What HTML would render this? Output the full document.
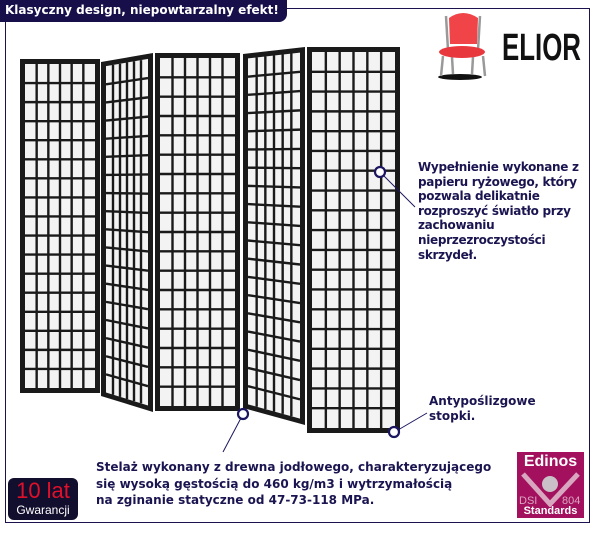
<!DOCTYPE html>
<html><head><meta charset="utf-8"><style>
body{margin:0;width:601px;height:534px;background:#fff;overflow:hidden;position:relative;font-family:"DejaVu Sans",Verdana,sans-serif}
.frame{position:absolute;left:5px;top:8px;width:585px;height:515px;border:1.5px solid #1c1250;box-sizing:border-box}
.tab{position:absolute;left:0;top:0;width:287px;height:22px;background:#160f4a;border-radius:0 0 8px 0;color:#fff;font:bold 12px "DejaVu Sans",sans-serif;line-height:20px;padding-left:5px;box-sizing:border-box}
.t{position:absolute;color:#1a1550;font:bold 12px "DejaVu Sans",Verdana,sans-serif;line-height:14.6px;white-space:nowrap}
svg{position:absolute;left:0;top:0}
</style></head><body>
<div class="frame"></div>
<div class="tab">Klasyczny design, niepowtarzalny efekt!</div>
<svg id="s" width="601" height="534"></svg>
<div class="t" style="left:418px;top:160px;letter-spacing:-0.3px">Wypełnienie wykonane z<br>papieru ryżowego, który<br>pozwala delikatnie<br>rozproszyć światło przy<br>zachowaniu<br>nieprzezroczystości<br>skrzydeł.</div>
<div class="t" style="left:429px;top:394px">Antypoślizgowe<br>stopki.</div>
<div class="t" style="left:96px;top:459px;line-height:16.5px">Stelaż wykonany z drewna jodłowego, charakteryzującego<br>się wysoką gęstością do 460 kg/m3 i wytrzymałością<br>na zginanie statyczne od 47-73-118 MPa.</div>
<div style="position:absolute;left:502px;top:29px;font:bold 38px 'Liberation Sans',sans-serif;color:#111;transform:scaleX(0.68);transform-origin:left;line-height:38px">ELIOR</div>
<div style="position:absolute;left:8px;top:478px;width:70px;height:42px;background:#120e2e;border-radius:6px;text-align:center">
<div style="color:#e0102a;font:22px 'Liberation Sans',sans-serif;line-height:24px;margin-top:1px">10 lat</div>
<div style="color:#fff;font:12px 'Liberation Sans',sans-serif;line-height:14px">Gwarancji</div></div>
<div style="position:absolute;left:517px;top:452px;width:67px;height:66px;background:#a3105e;color:#fff;text-align:center">
<div style="font:bold 16px 'Liberation Sans',sans-serif;line-height:18px;margin-top:1px">Edinos</div>
<svg width="67" height="36" style="top:19px"><polyline points="6,3 33,33 61,3" fill="none" stroke="#d9a6c0" stroke-width="5"/><circle cx="33" cy="13" r="8" fill="#c9c0c8"/><text x="2" y="33" font-family="Liberation Sans" font-size="11" fill="#d9a6c0">DSI</text><text x="45" y="33" font-family="Liberation Sans" font-size="11" fill="#d9a6c0">804</text></svg>
<div style="position:absolute;left:0;right:0;bottom:1px;font:bold 11px 'Liberation Sans',sans-serif;line-height:12px">Standards</div></div>
<script>
var s=document.getElementById('s'),h='';
function L(a,b,t){return [a[0]+(b[0]-a[0])*t,a[1]+(b[1]-a[1])*t]}
function P(tl,tr,br,bl,c,r){
 h+='<polygon points="'+[tl,tr,br,bl].join(' ')+'" fill="#1a1a1a"/>';
 var f=5,w=tr[0]-tl[0];
 var ITL=[tl[0]+f,tl[1]+f+(tr[1]-tl[1])*f/w],ITR=[tr[0]-f,tr[1]+f-(tr[1]-tl[1])*f/w],
 IBR=[br[0]-f,br[1]-f-(br[1]-bl[1])*f/w],IBL=[bl[0]+f,bl[1]-f+(br[1]-bl[1])*f/w];
 h+='<polygon points="'+[ITL,ITR,IBR,IBL].join(' ')+'" fill="#f3f3f3"/>';
 for(var i=1;i<c;i++){var a=L(ITL,ITR,i/c),b=L(IBL,IBR,i/c);h+='<line x1="'+a[0]+'" y1="'+a[1]+'" x2="'+b[0]+'" y2="'+b[1]+'" stroke="#1a1a1a" stroke-width="2.4"/>'}
 for(var j=1;j<r;j++){var a=L(ITL,IBL,j/r),b=L(ITR,IBR,j/r);h+='<line x1="'+a[0]+'" y1="'+a[1]+'" x2="'+b[0]+'" y2="'+b[1]+'" stroke="#1a1a1a" stroke-width="2.4"/>'}
}
P([20,59],[100,59],[100,393],[20,393],6,17);
P([101,62],[153,53],[153,412],[101,396],6,18);
P([155,53],[240,53],[240,411],[155,411],6,18);
P([243,54],[305,47],[305,425],[243,408],6,19);
P([307,47],[400,47],[400,433],[307,433],6,19);
h+='<ellipse cx="460" cy="77" rx="22" ry="3" fill="#111"/>';
h+='<path d="M446,16 L448,50 M480,16 L478,50 M443,56 L441,76 M483,56 L485,76 M452,57 L453,74 M473,57 L472,74" stroke="#999" stroke-width="2.5" fill="none"/>';
h+='<path d="M449,18 Q463,8 478,18 L477,44 L450,44 Z" fill="#f04448"/>';
h+='<ellipse cx="462" cy="52" rx="23" ry="6" fill="#e8383e"/>';
h+='<line x1="383" y1="175" x2="415" y2="207" stroke="#1c1660" stroke-width="1"/>';
h+='<line x1="241" y1="418" x2="223" y2="452" stroke="#1c1660" stroke-width="1"/>';
h+='<line x1="398" y1="430" x2="427" y2="413" stroke="#1c1660" stroke-width="1"/>';
[[380,172],[243,414],[394,432]].forEach(function(p){h+='<circle cx="'+p[0]+'" cy="'+p[1]+'" r="5" fill="#fff" stroke="#1c1660" stroke-width="2.2"/>'});
s.innerHTML=h;
</script>
</body></html>
